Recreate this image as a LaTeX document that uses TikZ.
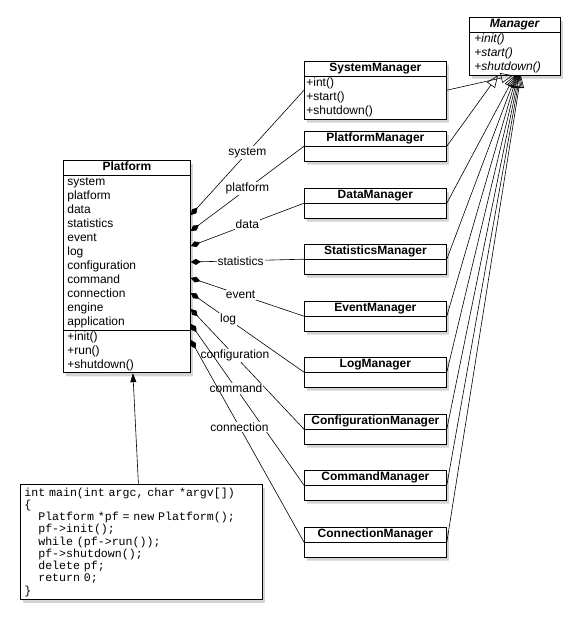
\documentclass[tikz,border=0pt]{standalone}
\usepackage{fontspec}
\setmainfont{Liberation Sans}
\newfontfamily\codefam{Liberation Mono}
\usetikzlibrary{arrows.meta,positioning,calc,shapes.multipart,shadows}
\newcommand{\hd}[1]{\hbox to\hsize{\hss\textbf{#1}\strut\hss}}
\newcommand{\codefont}{\codefam\fontsize{11.6}{12.25}\selectfont\spaceskip=0.6em\relax}

\begin{document}
\begin{tikzpicture}[x=1pt,y=-1pt,
  cls/.style={rectangle split,rectangle split parts=2,draw=black,fill=white,line width=0.8pt,
    inner ysep=0pt,inner xsep=2pt,text width=138pt,align=left,font=\fontsize{12}{14}\selectfont,
    anchor=north west,drop shadow={shadow xshift=2.5pt,shadow yshift=-3.5pt,opacity=0.35}},
  code/.style={draw=black,fill=white,line width=0.8pt,anchor=north west,minimum width=242pt,
    minimum height=114pt,text width=234pt,inner xsep=4pt,align=left,font=\codefont,
    drop shadow={shadow xshift=2.5pt,shadow yshift=-3.5pt,opacity=0.35}},
  lbl/.style={fill=white,inner sep=1pt,font=\fontsize{12}{14}\selectfont},
  comp/.style={{Diamond[length=10pt,width=6pt]}-,line width=0.6pt},
  gen/.style={-{Triangle[open,length=12pt,width=10pt]},line width=0.6pt},
  dep/.style={-{Triangle[length=9pt,width=6pt]},line width=0.6pt}]
  \useasboundingbox (0,0) rectangle (579,621);
  % classes
  \node[cls,text width=81pt,inner xsep=5pt] (mgr) at (469,17)
    {\hd{\textit{Manager}}\nodepart{two}\itshape\strut+init()\\+start()\\+shutdown()\strut};
  \node[cls,rectangle split parts=3,text width=119pt,inner xsep=4pt] (pf) at (63,160)
    {\hd{Platform}\nodepart{two}\strut system\\platform\\data\\statistics\\event\\log\\configuration\\command\\connection\\engine\\application\strut
     \nodepart{three}\strut+init()\\+run()\\+shutdown()\strut};
  \node[cls] (sys) at (304,61) {\hd{SystemManager}\nodepart{two}\strut+int()\\+start()\\+shutdown()\strut};
  \node[cls] (pfm) at (304,131) {\hd{PlatformManager}\nodepart{two}\strut};
  \node[cls] (dm) at (304,188) {\hd{DataManager}\nodepart{two}\strut};
  \node[cls] (stm) at (304,244) {\hd{StatisticsManager}\nodepart{two}\strut};
  \node[cls] (evm) at (304,301) {\hd{EventManager}\nodepart{two}\strut};
  \node[cls] (lgm) at (304,357) {\hd{LogManager}\nodepart{two}\strut};
  \node[cls] (cfm) at (304,414) {\hd{ConfigurationManager}\nodepart{two}\strut};
  \node[cls] (cmm) at (304,470) {\hd{CommandManager}\nodepart{two}\strut};
  \node[cls] (cnm) at (304,527) {\hd{ConnectionManager}\nodepart{two}\strut};
  \node[code] (main) at (20,484)
    {int main(int argc, char *argv[])\\
     \{\\
     \phantom{xx}Platform *pf = new Platform();\\
     \phantom{xx}pf->init();\\
     \phantom{xx}while (pf->run());\\
     \phantom{xx}pf->shutdown();\\
     \phantom{xx}delete pf;\\
     \phantom{xx}return 0;\\
     \}};
  % composition
  \draw[comp] ($(pf.north east)+(0,55)$) -- node[lbl,pos=0.5] {system} (sys.west);
  \draw[comp] ($(pf.north east)+(0,71)$) -- node[lbl,pos=0.5] {platform} (pfm.west);
  \draw[comp] ($(pf.north east)+(0,86)$) -- node[lbl,pos=0.5] {data} (dm.west);
  \draw[comp] ($(pf.north east)+(0,102)$) -- node[lbl,pos=0.44] {statistics} (stm.west);
  \draw[comp] ($(pf.north east)+(0,118)$) -- node[lbl,pos=0.44] {event} (evm.west);
  \draw[comp] ($(pf.north east)+(0,133)$) -- node[lbl,pos=0.33] {log} (lgm.west);
  \draw[comp] ($(pf.north east)+(0,149)$) -- node[lbl,pos=0.39] {configuration} (cfm.west);
  \draw[comp] ($(pf.north east)+(0,164)$) -- node[lbl,pos=0.4] {command} (cmm.west);
  \draw[comp] ($(pf.north east)+(0,180)$) -- node[lbl,pos=0.43] {connection} (cnm.west);
  % generalization
  \draw[gen] (sys.east) -- ($(mgr.south)+(-2,0)$);
  \draw[gen] (pfm.east) -- ($(mgr.south)+(-17,0)$);
  \draw[gen] (dm.east) -- ($(mgr.south)+(0,0)$);
  \draw[gen] (stm.east) -- ($(mgr.south)+(1,0)$);
  \draw[gen] (evm.east) -- ($(mgr.south)+(2,0)$);
  \draw[gen] (lgm.east) -- ($(mgr.south)+(3,0)$);
  \draw[gen] (cfm.east) -- ($(mgr.south)+(4,0)$);
  \draw[gen] (cmm.east) -- ($(mgr.south)+(5,0)$);
  \draw[gen] (cnm.east) -- ($(mgr.south)+(6,0)$);
  \draw[dep] ($(main.north)+(-3,0)$) -- ($(pf.south)+(6,0)$);
\end{tikzpicture}
\end{document}
